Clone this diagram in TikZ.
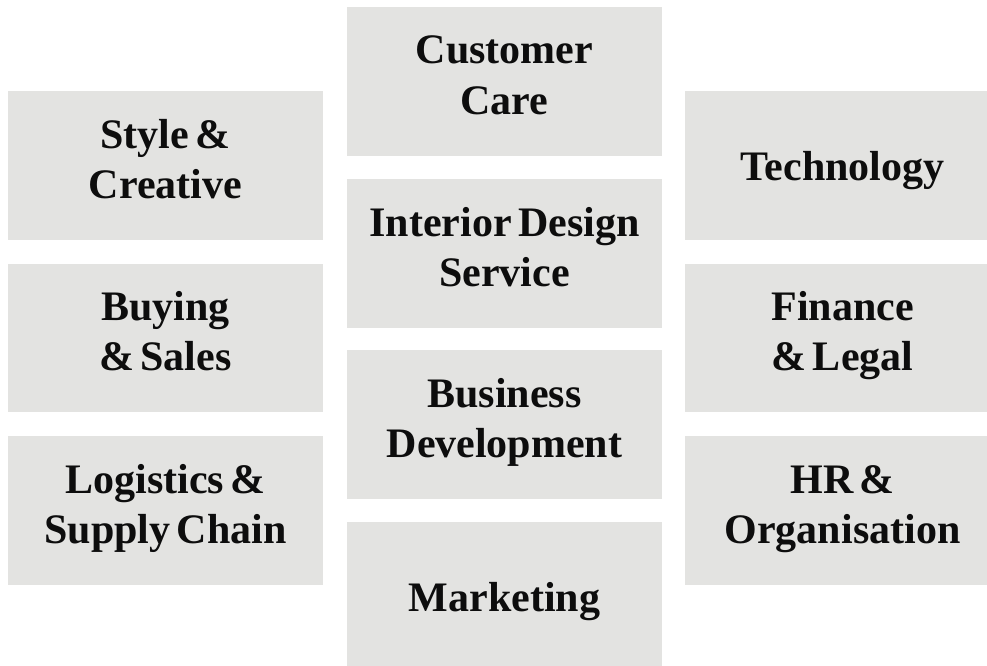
\documentclass[tikz,border=0pt]{standalone}
\usepackage{fontspec}
\setmainfont[WordSpace=0.6]{Liberation Serif}
\definecolor{boxgray}{HTML}{E3E3E1}
\definecolor{ink}{HTML}{0D0D0D}
\begin{document}
\begin{tikzpicture}[x=1pt,y=-1pt,
  panel/.style={fill=boxgray, draw=none, inner sep=0pt, minimum width=315pt, minimum height=149pt},
  lbl/.style={font=\bfseries\fontsize{42}{50}\selectfont, text=ink, inner sep=0pt, anchor=base}]
\clip (0,0) rectangle (987,666);
\fill[white] (0,0) rectangle (987,666);
% left column
\node[panel] (style) at (165.5,165.5) {};
\node[panel, minimum height=148pt] (buy) at (165.5,338) {};
\node[panel] (log) at (165.5,510.5) {};
% middle column
\node[panel] (cc) at (504.5,81.5) {};
\node[panel] (ids) at (504.5,253.5) {};
\node[panel] (bd) at (504.5,424.5) {};
\node[panel] (mkt) at (504.5,596.5) {};
% right column
\node[panel] (tech) at (842.5,165.5) {};
\node[panel, minimum height=148pt] (fin) at (842.5,338) {};
\node[panel] (hr) at (842.5,510.5) {};
% labels
\node[lbl] at ([yshift=17.5pt]style.center) {Style \&};
\node[lbl] at ([yshift=-32.5pt]style.center) {Creative};
\node[lbl] at ([yshift=17.5pt]buy.center) {Buying};
\node[lbl] at ([yshift=-32.5pt]buy.center) {\& Sales};
\node[lbl] at ([yshift=17.5pt]log.center) {Logistics \&};
\node[lbl] at ([yshift=-32.5pt]log.center) {Supply Chain};
\node[lbl] at ([yshift=17.5pt]cc.center) {Customer};
\node[lbl] at ([yshift=-32.5pt]cc.center) {Care};
\node[lbl] at ([yshift=17.5pt]ids.center) {Interior Design};
\node[lbl] at ([yshift=-32.5pt]ids.center) {Service};
\node[lbl] at ([yshift=17.5pt]bd.center) {Business};
\node[lbl] at ([yshift=-32.5pt]bd.center) {Development};
\node[lbl] at ([yshift=-14.5pt]mkt.center) {Marketing};
\node[lbl] at ([yshift=-14.5pt]tech.center) {Technology};
\node[lbl] at ([yshift=17.5pt]fin.center) {Finance};
\node[lbl] at ([yshift=-32.5pt]fin.center) {\& Legal};
\node[lbl] at ([yshift=17.5pt]hr.center) {HR \&};
\node[lbl] at ([yshift=-32.5pt]hr.center) {Organisation};
\end{tikzpicture}
\end{document}
